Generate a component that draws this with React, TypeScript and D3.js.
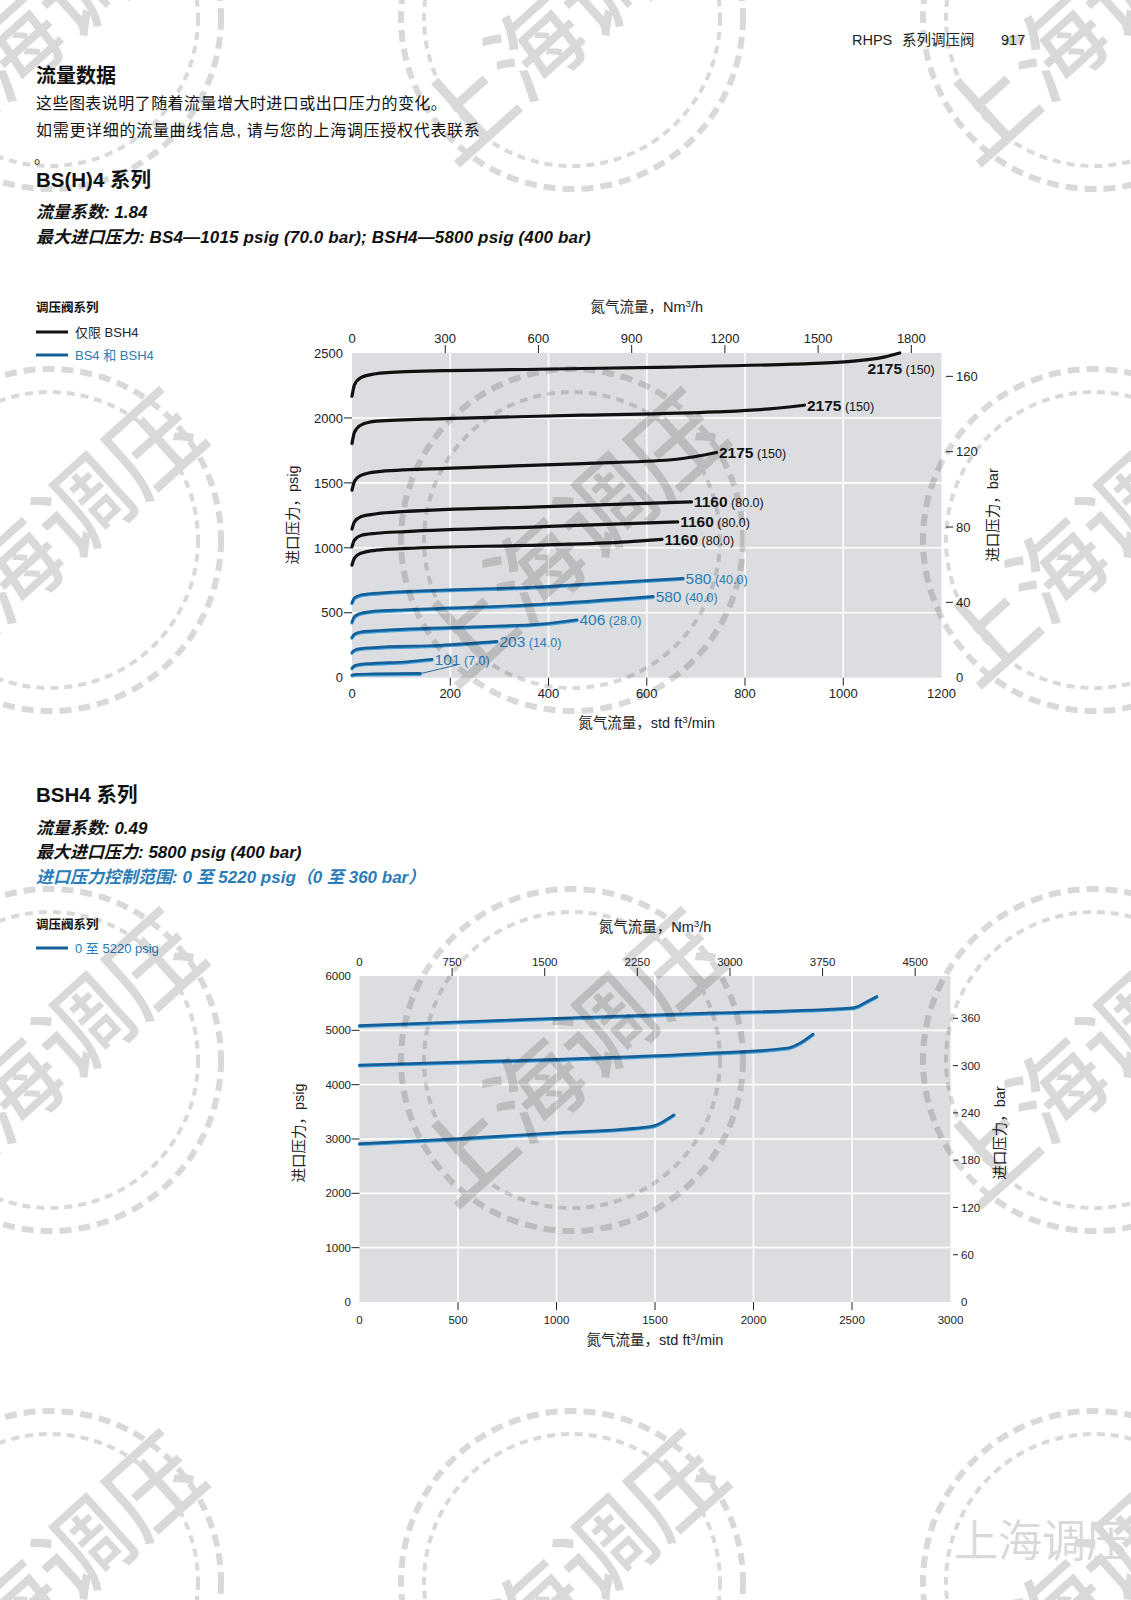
import React from "react";
import * as d3 from "d3";

type Pt = [number, number];

// ---------- BS(H)4 series: flow (std ft³/min) vs inlet pressure (psig) ----------
const bsh4Curve2175a: Pt[] = [[0, 2167], [5, 2255], [18, 2310], [45, 2338], [110, 2356], [380, 2375], [650, 2392], [900, 2415], [1010, 2434], [1085, 2470], [1115, 2500]];
const bsh4Curve2175b: Pt[] = [[0, 1803], [5, 1890], [18, 1945], [50, 1975], [190, 1995], [470, 2021], [740, 2046], [850, 2070], [921, 2098]];
const bsh4Curve2175c: Pt[] = [[0, 1444], [5, 1510], [18, 1558], [50, 1585], [190, 1611], [470, 1649], [650, 1678], [700, 1703], [742, 1734]];
const bsh4Curve1160a: Pt[] = [[0, 1145], [5, 1200], [18, 1240], [50, 1262], [110, 1280], [380, 1315], [691, 1354]];
const bsh4Curve1160b: Pt[] = [[0, 1008], [5, 1060], [18, 1095], [50, 1112], [110, 1125], [380, 1162], [663, 1200]];
const bsh4Curve1160c: Pt[] = [[0, 867], [5, 920], [18, 958], [50, 982], [110, 995], [380, 1021], [560, 1046], [631, 1065]];
const bs4Curve580a: Pt[] = [[0, 577], [5, 615], [17, 636], [44, 649], [383, 700], [674, 765]];
const bs4Curve580b: Pt[] = [[0, 428], [5, 470], [17, 495], [44, 512], [106, 523], [383, 565], [613, 626]];
const bs4Curve406: Pt[] = [[0, 311], [5, 335], [17, 352], [44, 360], [247, 392], [383, 413], [458, 446]];
const bs4Curve203: Pt[] = [[0, 195], [5, 212], [17, 224], [44, 232], [180, 250], [295, 280]];
const bs4Curve101a: Pt[] = [[0, 75], [5, 92], [17, 103], [44, 110], [112, 123], [163, 142]];
const bs4Curve101b: Pt[] = [[0, 21], [8, 26], [44, 29], [139, 33]];

// ---------- BSH4 series ----------
const bsh4HpCurveTop: Pt[] = [[0, 5088], [1000, 5222], [1800, 5320], [2490, 5409], [2526, 5433], [2562, 5500], [2626, 5623]];
const bsh4HpCurveMid: Pt[] = [[0, 4360], [1040, 4470], [1760, 4575], [2150, 4665], [2185, 4685], [2236, 4764], [2302, 4930]];
const bsh4HpCurveLow: Pt[] = [[0, 2915], [460, 2996], [970, 3107], [1475, 3229], [1510, 3262], [1542, 3320], [1596, 3444]];

// ---------- axis ticks ----------
const c1FlowTicks = [0, 200, 400, 600, 800, 1000, 1200];
const c1PsigTicks = [0, 500, 1000, 1500, 2000, 2500];
const c1NmTicks = [0, 300, 600, 900, 1200, 1500, 1800];
const c1BarTicks = [0, 40, 80, 120, 160];
const c2FlowTicks = [0, 500, 1000, 1500, 2000, 2500, 3000];
const c2PsigTicks = [0, 1000, 2000, 3000, 4000, 5000, 6000];
const c2NmTicks = [0, 750, 1500, 2250, 3000, 3750, 4500];
const c2BarTicks = [0, 60, 120, 180, 240, 300, 360];

// axis extents
const c1FlowMax = 1200, c1PsigMax = 2500, c1NmMax = 1897, c1BarMax = 172.4;
const c2FlowMax = 3000, c2PsigMax = 6000, c2NmMax = 4786, c2BarMax = 413.7;

const BLACK = "#111111";
const BLUE_DARK = "#155f98";
const BLUE_LIGHT = "#45a3dc";
const BLUE_TEXT = "#2a7cb8";
const PLOT_BG = "#dcdde0";
const STAMP = "#d9d9d9";

const SANS = "'Liberation Sans', Arial, 'Noto Sans CJK SC', sans-serif";
const NARROW = "'Liberation Sans Narrow', 'Liberation Sans', Arial, sans-serif";

type Curve = {
  data: Pt[];
  color: "black" | "blue";
  main?: string;
  sub?: string;
  dx?: number;
  dy?: number;
  anchor?: "start" | "end";
};

const chart1Curves: Curve[] = [
  { data: bsh4Curve2175a, color: "black", main: "2175", sub: "(150)", dx: 35, dy: 15, anchor: "end" },
  { data: bsh4Curve2175b, color: "black", main: "2175", sub: "(150)" },
  { data: bsh4Curve2175c, color: "black", main: "2175", sub: "(150)" },
  { data: bsh4Curve1160a, color: "black", main: "1160", sub: "(80.0)" },
  { data: bsh4Curve1160b, color: "black", main: "1160", sub: "(80.0)" },
  { data: bsh4Curve1160c, color: "black", main: "1160", sub: "(80.0)" },
  { data: bs4Curve580a, color: "blue", main: "580", sub: "(40.0)" },
  { data: bs4Curve580b, color: "blue", main: "580", sub: "(40.0)" },
  { data: bs4Curve406, color: "blue", main: "406", sub: "(28.0)" },
  { data: bs4Curve203, color: "blue", main: "203", sub: "(14.0)" },
  { data: bs4Curve101a, color: "blue", main: "101", sub: "(7.0)" },
  { data: bs4Curve101b, color: "blue" },
];

const chart2Curves: Curve[] = [
  { data: bsh4HpCurveTop, color: "blue" },
  { data: bsh4HpCurveMid, color: "blue" },
  { data: bsh4HpCurveLow, color: "blue" },
];

type Box = { left: number; right: number; top: number; bottom: number };

type ChartProps = {
  box: Box;
  flowMax: number; psigMax: number; nmMax: number; barMax: number;
  flowTicks: number[]; psigTicks: number[]; nmTicks: number[]; barTicks: number[];
  curves: Curve[];
  tickSize: number;
  titleY: { top: number; bottom: number };
  sideX: { left: number; right: number; mid: number };
  tickGeom: { leftEnd: number; topBase: number; bottomBase: number; rightStart: number; rDash0: number; rDash1: number };
  leader?: boolean;
};

function Sup({ base, sup, after }: { base: string; sup: string; after: string }) {
  return (
    <>
      {base}
      <tspan dy={-5} fontSize="0.68em">{sup}</tspan>
      <tspan dy={5}>{after}</tspan>
    </>
  );
}

function Chart(p: ChartProps) {
  const { box } = p;
  const x = d3.scaleLinear().domain([0, p.flowMax]).range([box.left, box.right]);
  const y = d3.scaleLinear().domain([0, p.psigMax]).range([box.bottom, box.top]);
  const xTop = d3.scaleLinear().domain([0, p.nmMax]).range([box.left, box.right]);
  const yRight = d3.scaleLinear().domain([0, p.barMax]).range([box.bottom, box.top]);
  const line = d3.line<Pt>().x((d) => x(d[0])).y((d) => y(d[1])).curve(d3.curveMonotoneX);
  const tg = p.tickGeom;
  const fs = p.tickSize;
  const cx = (box.left + box.right) / 2;

  return (
    <g>
      <rect x={box.left} y={box.top} width={box.right - box.left} height={box.bottom - box.top} fill={PLOT_BG} />
      {/* grid */}
      {p.flowTicks.slice(1, -1).map((t) => (
        <line key={"gx" + t} x1={x(t)} x2={x(t)} y1={box.top} y2={box.bottom} stroke="#fff" strokeWidth={1.6} />
      ))}
      {p.psigTicks.slice(1, -1).map((t) => (
        <line key={"gy" + t} x1={box.left} x2={box.right} y1={y(t)} y2={y(t)} stroke="#fff" strokeWidth={1.6} />
      ))}

      {/* curves */}
      {p.curves.map((c, i) =>
        c.color === "black" ? (
          <path key={"c" + i} d={line(c.data) || ""} fill="none" stroke={BLACK} strokeWidth={3.2} strokeLinecap="round" />
        ) : (
          <g key={"c" + i}>
            <path d={line(c.data) || ""} transform="translate(0,0.9)" fill="none" stroke={BLUE_LIGHT} strokeWidth={3.2} strokeLinecap="round" />
            <path d={line(c.data) || ""} fill="none" stroke={BLUE_DARK} strokeWidth={2.7} strokeLinecap="round" />
          </g>
        )
      )}

      {/* curve labels */}
      {p.curves.map((c, i) => {
        if (!c.main) return null;
        const end = c.data[c.data.length - 1];
        const ex = x(end[0]);
        const ey = y(end[1]);
        const col = c.color === "black" ? BLACK : BLUE_TEXT;
        return (
          <text key={"l" + i} x={ex + (c.dx ?? 2.5)} y={ey + (c.dy ?? 0) + 5.5} textAnchor={c.anchor ?? "start"} fill={col} fontFamily={SANS}>
            <tspan fontSize={15.5} fontWeight={c.color === "black" ? 600 : 400}>{c.main}</tspan>
            <tspan fontSize={12.5} fontWeight={400}>{" " + c.sub}</tspan>
          </text>
        );
      })}

      {p.leader && (() => {
        const end = bs4Curve101b[bs4Curve101b.length - 1];
        return <line x1={x(end[0]) + 1} y1={y(end[1])} x2={x(end[0]) + 37} y2={y(end[1]) - 8.5} stroke={BLUE_DARK} strokeWidth={0.9} />;
      })()}

      {/* left axis */}
      {p.psigTicks.map((t, i) => (
        <g key={"ly" + t}>
          {i > 0 && i < p.psigTicks.length - 1 && (
            <line x1={box.left - 8} x2={box.left} y1={y(t)} y2={y(t)} stroke="#222" strokeWidth={1} />
          )}
          <text x={tg.leftEnd} y={y(t) + fs * 0.36} textAnchor="end" fontSize={fs} fontFamily={NARROW} fill="#222">{t}</text>
        </g>
      ))}
      {/* bottom axis */}
      {p.flowTicks.map((t, i) => (
        <g key={"bx" + t}>
          {i > 0 && i < p.flowTicks.length - 1 && (
            <line x1={x(t)} x2={x(t)} y1={box.bottom} y2={box.bottom + 8} stroke="#222" strokeWidth={1} />
          )}
          <text x={x(t)} y={tg.bottomBase} textAnchor="middle" fontSize={fs} fontFamily={NARROW} fill="#222">{t}</text>
        </g>
      ))}
      {/* top axis */}
      {p.nmTicks.map((t, i) => (
        <g key={"tx" + t}>
          {i > 0 && <line x1={xTop(t)} x2={xTop(t)} y1={box.top - 8} y2={box.top} stroke="#222" strokeWidth={1} />}
          <text x={xTop(t)} y={tg.topBase} textAnchor="middle" fontSize={fs} fontFamily={NARROW} fill="#222">{t}</text>
        </g>
      ))}
      {/* right axis */}
      {p.barTicks.map((t, i) => (
        <g key={"ry" + t}>
          {i > 0 && <line x1={tg.rDash0} x2={tg.rDash1} y1={yRight(t)} y2={yRight(t)} stroke="#222" strokeWidth={1} />}
          <text x={tg.rightStart} y={yRight(t) + fs * 0.36} textAnchor="start" fontSize={fs} fontFamily={NARROW} fill="#222">{t}</text>
        </g>
      ))}

      {/* axis titles */}
      <text x={cx} y={p.titleY.top + 5} textAnchor="middle" fontSize={14.5} fontFamily={SANS} fill="#222">
        <Sup base="氮气流量，Nm" sup="3" after="/h" />
      </text>
      <text x={cx} y={p.titleY.bottom + 5} textAnchor="middle" fontSize={14.5} fontFamily={SANS} fill="#222">
        <Sup base="氮气流量，std ft" sup="3" after="/min" />
      </text>
      <text transform={`translate(${p.sideX.left},${p.sideX.mid}) rotate(-90)`} y={5} textAnchor="middle" fontSize={14.5} fontFamily={SANS} fill="#222">
        进口压力，psig
      </text>
      <text transform={`translate(${p.sideX.right},${p.sideX.mid}) rotate(-90)`} y={5} textAnchor="middle" fontSize={14.5} fontFamily={SANS} fill="#222">
        进口压力，bar
      </text>
    </g>
  );
}

// decorative stamp pattern laid over the page
const stampXs = [50, 572, 1094];
const stampYs = [18, 540, 1060, 1582];

function Stamps() {
  const centers: Pt[] = [];
  stampYs.forEach((sy) => stampXs.forEach((sx) => centers.push([sx, sy])));
  return (
    <g style={{ mixBlendMode: "multiply" }} pointerEvents="none">
      {centers.map(([sx, sy], i) => (
        <g key={i} transform={`translate(${sx},${sy})`}>
          <circle r={171} fill="none" stroke={STAMP} strokeWidth={6} strokeDasharray="12 7" />
          <circle r={148} fill="none" stroke={STAMP} strokeWidth={4} strokeDasharray="8 6" />
          <text transform="rotate(-42)" y={33} textAnchor="middle" fontSize={94} fontWeight={500} fontFamily="'Noto Sans CJK SC', sans-serif" fill={STAMP}>
            上海调压
          </text>
        </g>
      ))}
      <text x={954} y={1557} fontSize={44} fontFamily="'Noto Sans CJK SC', sans-serif" fill={STAMP}>上海调压</text>
    </g>
  );
}

export default function App() {
  return (
    <svg width={1131} height={1600} viewBox="0 0 1131 1600" style={{ position: "absolute", left: 0, top: 0, background: "#fff" }}>
      <rect width={1131} height={1600} fill="#fff" />

      {/* page header */}
      <text x={852} y={45} fontSize={14.5} fontFamily={SANS} fill="#222">RHPS</text>
      <text x={902} y={45} fontSize={14.5} fontFamily={SANS} fill="#222">系列调压阀</text>
      <text x={1001} y={45} fontSize={14.5} fontFamily={SANS} fill="#222">917</text>

      <text x={36} y={83} fontSize={20} fontWeight={700} fontFamily={SANS} fill="#111">流量数据</text>
      <text x={36} y={109} fontSize={16} letterSpacing={0.45} fontFamily={SANS} fill="#111">这些图表说明了随着流量增大时进口或出口压力的变化。</text>
      <text x={36} y={136} fontSize={16} letterSpacing={0.7} fontFamily={SANS} fill="#111">如需更详细的流量曲线信息, 请与您的上海调压授权代表联系</text>
      <text x={34} y={163} fontSize={16} fontFamily={SANS} fill="#111">。</text>

      <text x={36} y={187} fontSize={20.5} fontWeight={700} fontFamily={SANS} fill="#111">BS(H)4 系列</text>
      <text x={36} y={218} fontSize={17} fontWeight={700} fontStyle="italic" fontFamily={SANS} fill="#111">流量系数: 1.84</text>
      <text x={36} y={243} fontSize={17} fontWeight={700} fontStyle="italic" letterSpacing={0.15} fontFamily={SANS} fill="#111">最大进口压力: BS4—1015 psig (70.0 bar); BSH4—5800 psig (400 bar)</text>

      {/* legend 1 */}
      <text x={36} y={312} fontSize={12.5} fontWeight={700} fontFamily={SANS} fill="#111">调压阀系列</text>
      <line x1={36} x2={68} y1={332} y2={332} stroke={BLACK} strokeWidth={3} />
      <text x={75} y={337} fontSize={13} fontFamily={SANS} fill="#222">仅限 BSH4</text>
      <line x1={36} x2={68} y1={355} y2={355} stroke={BLUE_DARK} strokeWidth={3} />
      <text x={75} y={360} fontSize={13} fontFamily={SANS} fill={BLUE_TEXT}>BS4 和 BSH4</text>

      <Chart
        box={{ left: 352, right: 941.5, top: 353, bottom: 677.7 }}
        flowMax={c1FlowMax} psigMax={c1PsigMax} nmMax={c1NmMax} barMax={c1BarMax}
        flowTicks={c1FlowTicks} psigTicks={c1PsigTicks} nmTicks={c1NmTicks} barTicks={c1BarTicks}
        curves={chart1Curves}
        tickSize={13}
        titleY={{ top: 307, bottom: 723 }}
        sideX={{ left: 293, right: 993, mid: 515 }}
        tickGeom={{ leftEnd: 343, topBase: 343, bottomBase: 698, rightStart: 956, rDash0: 946, rDash1: 953 }}
        leader
      />

      {/* BSH4 section */}
      <text x={36} y={802} fontSize={20.5} fontWeight={700} fontFamily={SANS} fill="#111">BSH4 系列</text>
      <text x={36} y={834} fontSize={17} fontWeight={700} fontStyle="italic" fontFamily={SANS} fill="#111">流量系数: 0.49</text>
      <text x={36} y={858} fontSize={17} fontWeight={700} fontStyle="italic" fontFamily={SANS} fill="#111">最大进口压力: 5800 psig (400 bar)</text>
      <text x={36} y={883} fontSize={17} fontWeight={700} fontStyle="italic" fontFamily={SANS} fill={BLUE_TEXT}>进口压力控制范围: 0 至 5220 psig（0 至 360 bar）</text>

      <text x={36} y={929} fontSize={12.5} fontWeight={700} fontFamily={SANS} fill="#111">调压阀系列</text>
      <line x1={36} x2={68} y1={948} y2={948} stroke={BLUE_DARK} strokeWidth={3} />
      <text x={75} y={953} fontSize={13} fontFamily={SANS} fill={BLUE_TEXT}>0 至 5220 psig</text>

      <Chart
        box={{ left: 359.5, right: 950.5, top: 976, bottom: 1302 }}
        flowMax={c2FlowMax} psigMax={c2PsigMax} nmMax={c2NmMax} barMax={c2BarMax}
        flowTicks={c2FlowTicks} psigTicks={c2PsigTicks} nmTicks={c2NmTicks} barTicks={c2BarTicks}
        curves={chart2Curves}
        tickSize={11.5}
        titleY={{ top: 927, bottom: 1340 }}
        sideX={{ left: 299, right: 1000, mid: 1133 }}
        tickGeom={{ leftEnd: 351, topBase: 966, bottomBase: 1324, rightStart: 961, rDash0: 953, rDash1: 958 }}
      />

      <Stamps />
    </svg>
  );
}
